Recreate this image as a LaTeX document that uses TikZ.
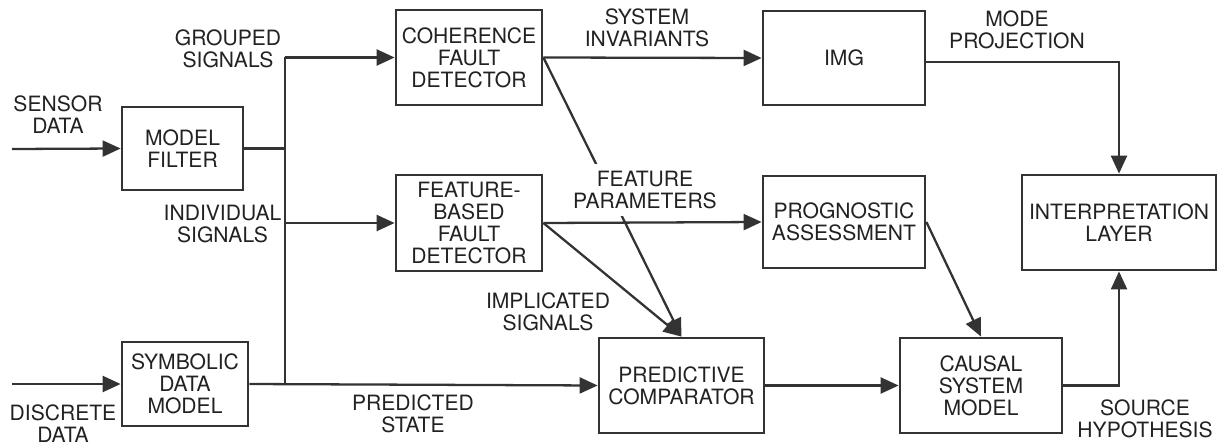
\documentclass[tikz,border=0pt]{standalone}
\usepackage{fontspec}
\setmainfont{TeX Gyre Heros}
\usetikzlibrary{arrows.meta}
\definecolor{ink}{HTML}{333333}
\definecolor{txt}{HTML}{222222}
\begin{document}
\begin{tikzpicture}[x=0.02cm, y=-0.02cm,
  font=\fontsize{12}{12.6}\selectfont, text=txt,
  blk/.style={draw=ink, line width=1.6pt, inner sep=0pt, align=center, fill=white},
  lbl/.style={inner sep=0pt, align=center},
  conn/.style={draw=ink, line width=1.3pt},
  arr/.style={conn, -{Triangle[length=3.6mm, width=3.2mm]}}]
\useasboundingbox (0,0) rectangle (1219,446);

% processing blocks
\node[blk, minimum width=2.42cm, minimum height=1.66cm] (mf)   at (182.5,148.5) {MODEL\\FILTER};
\node[blk, minimum width=2.52cm, minimum height=1.68cm] (sdm)  at (185,384)     {SYMBOLIC\\DATA\\MODEL};
\node[blk, minimum width=2.92cm, minimum height=1.90cm] (cfd)  at (469,57.5)    {COHERENCE\\FAULT\\DETECTOR};
\node[blk, minimum width=2.92cm, minimum height=1.92cm] (fbfd) at (469,223)     {FEATURE-\\BASED\\FAULT\\DETECTOR};
\node[blk, minimum width=3.24cm, minimum height=1.88cm] (img)  at (844,58)      {IMG};
\node[blk, minimum width=3.24cm, minimum height=1.84cm] (pa)   at (844,222)     {PROGNOSTIC\\ASSESSMENT};
\node[blk, minimum width=3.30cm, minimum height=1.90cm] (pc)   at (681.5,385.5) {PREDICTIVE\\COMPARATOR};
\node[blk, minimum width=3.24cm, minimum height=1.90cm] (csm)  at (981,385.5)   {CAUSAL\\SYSTEM\\MODEL};
\node[blk, minimum width=3.88cm, minimum height=1.90cm] (il)   at (1119,222.5)  {INTERPRETATION\\LAYER};

% free ends and junctions
\coordinate (sin)  at (12,149);
\coordinate (din)  at (12,384);
\coordinate (bust) at (285,57.5);
\coordinate (busb) at (285,384);
\coordinate (busm) at (285,223);
\coordinate (mpc)  at (1119,62);

% coherence detector output crossing behind its label
\draw[arr] (cfd.east) -- (pc.north);
\node[lbl, fill=white, inner xsep=2pt, inner ysep=4pt] (lfp) at (645,190) {FEATURE\\PARAMETERS};

% inputs
\draw[arr] (sin) -- (mf.west);
\draw[arr] (din) -- (sdm.west);

% signal bus
\draw[conn] (mf.east) -- (mf.east -| bust);
\draw[conn] (bust) -- (busb);
\draw[arr] (bust) -- (cfd.west);
\draw[arr] (busm) -- (fbfd.west);
\draw[arr] (sdm.east) -- (pc.west);

% remaining flows
\draw[arr] (cfd.east) -- (img.west);
\draw[arr] (fbfd.east) -- (pa.west);
\draw[arr] (fbfd.east) -- (pc.north);
\draw[arr] (img.east |- mpc) -- (mpc) -- (il.north);
\draw[arr] (pa.east) -- (csm.north);
\draw[arr] (pc.east) -- (csm.west);
\draw[arr] (csm.east) -| (il.south);

% flow labels
\node[lbl] (lsd) at (58,115)    {SENSOR\\DATA};
\node[lbl] (ldd) at (63,424)    {DISCRETE\\DATA};
\node[lbl] (lgs) at (228,48.5)  {GROUPED\\SIGNALS};
\node[lbl] (lis) at (222.5,224) {INDIVIDUAL\\SIGNALS};
\node[lbl] (lps) at (413,414)   {PREDICTED\\STATE};
\node[lbl] (lsi) at (647,28)    {SYSTEM\\INVARIANTS};
\node[lbl] (lms) at (548,312)   {IMPLICATED\\SIGNALS};
\node[lbl] (lmp) at (1017,30)   {MODE\\PROJECTION};
\node[lbl] (lsh) at (1145,419)  {SOURCE\\HYPOTHESIS};
\end{tikzpicture}
\end{document}
